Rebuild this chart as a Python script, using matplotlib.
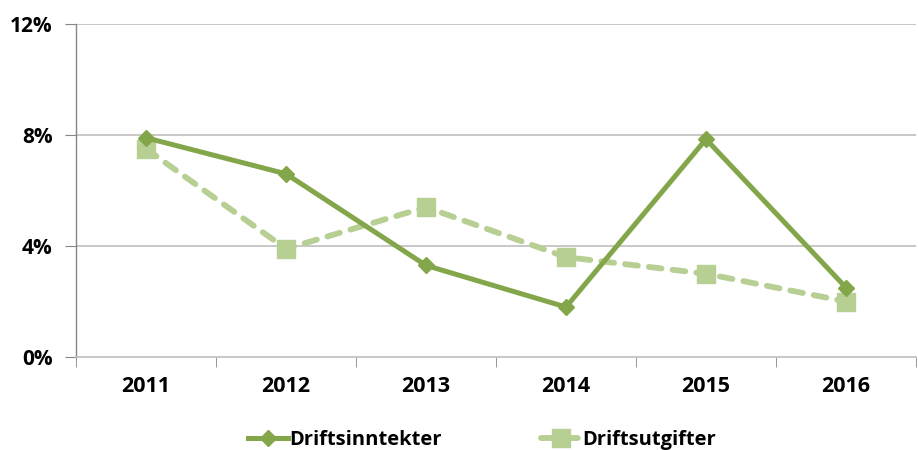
import numpy as np
import matplotlib.pyplot as plt

years = ["2011", "2012", "2013", "2014", "2015", "2016"]
inntekter = [7.9, 6.6, 3.3, 1.8, 7.85, 2.5]
utgifter = [7.5, 3.9, 5.4, 3.6, 3.0, 2.0]
yticks = [0, 4, 8, 12]

dark = "#84A64A"
light = "#B7CF93"

plt.rcParams['font.family'] = ['Open Sans', 'DejaVu Sans']
plt.rcParams['font.weight'] = 'bold'

fig = plt.figure(figsize=(9.18, 4.5), dpi=100)
ax = fig.add_axes([76 / 918, 1 - 357 / 450, 840 / 918, 333 / 450])

x = np.arange(len(years))
ax.plot(x, inntekter, color=dark, lw=3.6, marker="D", ms=8.5,
        solid_joinstyle="miter", label="Driftsinntekter", zorder=4)
ax.plot(x, utgifter, color=light, lw=4.2, ls=(0, (2.2, 1.9)), marker="s", ms=13,
        dash_capstyle="round", label="Driftsutgifter", zorder=3)

ax.set_xlim(-0.5, len(years) - 0.5)
ax.set_ylim(0, 12)
ax.set_yticks(yticks)
ax.set_yticklabels([f"{v}%" for v in yticks], fontsize=15, fontweight="bold")
ax.set_xticks(x)
ax.set_xticklabels(years, fontsize=15.5, fontweight="bold")
ax.set_xticks(np.arange(-0.5, len(years)), minor=True)
ax.tick_params(axis="x", which="major", length=0, pad=14)
ax.tick_params(axis="x", which="minor", length=7, color="#868686", direction="out")
ax.tick_params(axis="y", length=8, color="#868686", pad=9)

for v in yticks[1:]:
    ax.axhline(v, color="#BFBFBF", lw=1.2, zorder=1)

for s in ["top", "right"]:
    ax.spines[s].set_visible(False)
ax.spines["left"].set_color("#868686")
ax.spines["bottom"].set_color("#BFBFBF")
ax.spines["left"].set_linewidth(1)
ax.spines["bottom"].set_linewidth(1.2)

leg = fig.legend(loc="lower center", bbox_to_anchor=(0.525, -0.04), ncol=2,
                 frameon=False, columnspacing=4.9, handlelength=2.0,
                 handletextpad=0.05, prop={"weight": "bold", "size": 14.5})

fig.savefig("out.png", dpi=100)
